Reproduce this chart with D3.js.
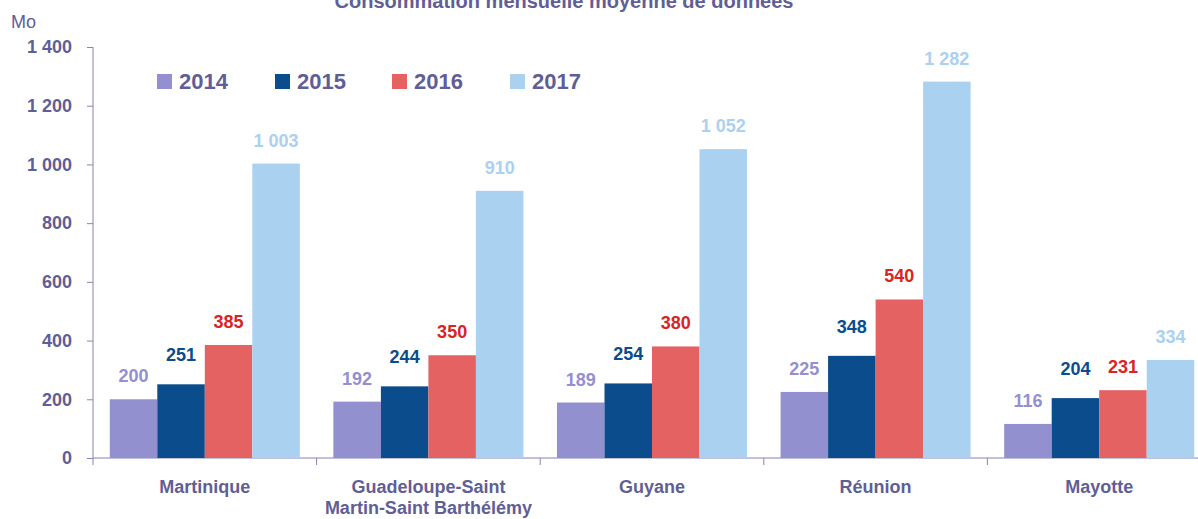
<!DOCTYPE html>
<html>
<head>
<meta charset="utf-8">
<script src="https://cdn.jsdelivr.net/npm/d3@7"></script>
<style>
  body { margin: 0; background: #fff; }
  svg { font-family: "Liberation Sans", Arial, sans-serif; display: block; }
</style>
</head>
<body>
<div id="chart"></div>
<script>
var regions = ["Martinique", "Guadeloupe-Saint Martin-Saint Barthélémy", "Guyane", "Réunion", "Mayotte"];
var regionLines = [["Martinique"], ["Guadeloupe-Saint", "Martin-Saint Barthélémy"], ["Guyane"], ["Réunion"], ["Mayotte"]];
var years = ["2014", "2015", "2016", "2017"];
var v2014 = [200, 192, 189, 225, 116];
var v2015 = [251, 244, 254, 348, 204];
var v2016 = [385, 350, 380, 540, 231];
var v2017 = [1003, 910, 1052, 1282, 334];
var yTicks = [0, 200, 400, 600, 800, 1000, 1200, 1400];

var barColors = ["#9390d0", "#0a4c8c", "#e46262", "#aad1f0"];
var labelColors = ["#9390d0", "#0a4c8c", "#d92424", "#aad1f0"];
var textColor = "#5f5e96";
var axisColor = "#8584b8";

var series = [v2014, v2015, v2016, v2017];
var W = 1198, H = 519;

var svg = d3.select("#chart").append("svg")
    .attr("width", W)
    .attr("height", H);

var x0 = d3.scaleBand().domain(regions).range([93, 1211]).paddingInner(0.15).paddingOuter(0.075);
var x1 = d3.scaleBand().domain(years).range([0, x0.bandwidth()]);
var y = d3.scaleLinear().domain([0, 1400]).range([458, 47]);

var fmt = function (v) { return d3.format(",")(v).replace(/,/g, " "); };

// title, cut at the top edge just like the source image
svg.append("text")
    .attr("x", 564).attr("y", 8)
    .attr("text-anchor", "middle")
    .attr("font-size", 20).attr("font-weight", "bold")
    .attr("fill", textColor)
    .text("Consommation mensuelle moyenne de données");

svg.append("text")
    .attr("x", 11).attr("y", 28)
    .attr("font-size", 18)
    .attr("fill", textColor)
    .text("Mo");

// y axis
var yAxis = svg.append("g")
    .attr("transform", "translate(93,0)")
    .call(d3.axisLeft(y).tickValues(yTicks).tickSize(6).tickPadding(15).tickFormat(fmt));
yAxis.select(".domain").attr("stroke", axisColor).attr("d", "M0," + y(1400) + "V" + y(0));
yAxis.selectAll(".tick line").attr("stroke", axisColor);
yAxis.selectAll(".tick text")
    .attr("fill", textColor).attr("font-size", 18).attr("font-weight", "bold")
    .attr("font-family", "Liberation Sans, Arial, sans-serif");

// x axis line, ticks between categories
var step = x0.step();
svg.append("line")
    .attr("x1", 93).attr("x2", W).attr("y1", y(0)).attr("y2", y(0))
    .attr("stroke", axisColor);
svg.selectAll(".xtick")
    .data(d3.range(regions.length))
    .enter().append("line")
    .attr("x1", function (i) { return 93 + i * step; })
    .attr("x2", function (i) { return 93 + i * step; })
    .attr("y1", y(0)).attr("y2", y(0) + 7)
    .attr("stroke", axisColor);

// bars
var groups = svg.selectAll(".grp")
    .data(regions)
    .enter().append("g")
    .attr("transform", function (d) { return "translate(" + x0(d) + ",0)"; });

groups.selectAll("rect")
    .data(function (d, i) { return years.map(function (yr, k) { return { k: k, v: series[k][i] }; }); })
    .enter().append("rect")
    .attr("x", function (d) { return x1(years[d.k]); })
    .attr("width", x1.bandwidth())
    .attr("y", function (d) { return y(d.v); })
    .attr("height", function (d) { return y(0) - y(d.v); })
    .attr("fill", function (d) { return barColors[d.k]; });

groups.selectAll(".lbl")
    .data(function (d, i) { return years.map(function (yr, k) { return { k: k, v: series[k][i] }; }); })
    .enter().append("text")
    .attr("x", function (d) { return x1(years[d.k]) + x1.bandwidth() / 2; })
    .attr("y", function (d) { return y(d.v) - (d.k === 1 ? 23 : 17); })
    .attr("text-anchor", "middle")
    .attr("font-size", 18).attr("font-weight", "bold")
    .attr("fill", function (d) { return labelColors[d.k]; })
    .text(function (d) { return fmt(d.v); });

// category labels
svg.selectAll(".cat")
    .data(regions)
    .enter().append("text")
    .attr("x", function (d) { return x0(d) + x0.bandwidth() / 2; })
    .attr("y", 493)
    .attr("text-anchor", "middle")
    .attr("font-size", 18).attr("font-weight", "bold")
    .attr("fill", textColor)
    .each(function (d, i) {
      var t = d3.select(this);
      regionLines[i].forEach(function (line, j) {
        t.append("tspan")
          .attr("x", x0(d) + x0.bandwidth() / 2)
          .attr("dy", j === 0 ? 0 : 21)
          .text(line);
      });
    });

// legend
var legendX = [157, 275, 392, 510];
var legend = svg.selectAll(".leg")
    .data(years)
    .enter().append("g")
    .attr("transform", function (d, i) { return "translate(" + legendX[i] + ",74)"; });
legend.append("rect")
    .attr("width", 15).attr("height", 15)
    .attr("fill", function (d, i) { return barColors[i]; });
legend.append("text")
    .attr("x", 22).attr("y", 15)
    .attr("font-size", 22).attr("font-weight", "bold")
    .attr("fill", textColor)
    .text(function (d) { return d; });
</script>
</body>
</html>
